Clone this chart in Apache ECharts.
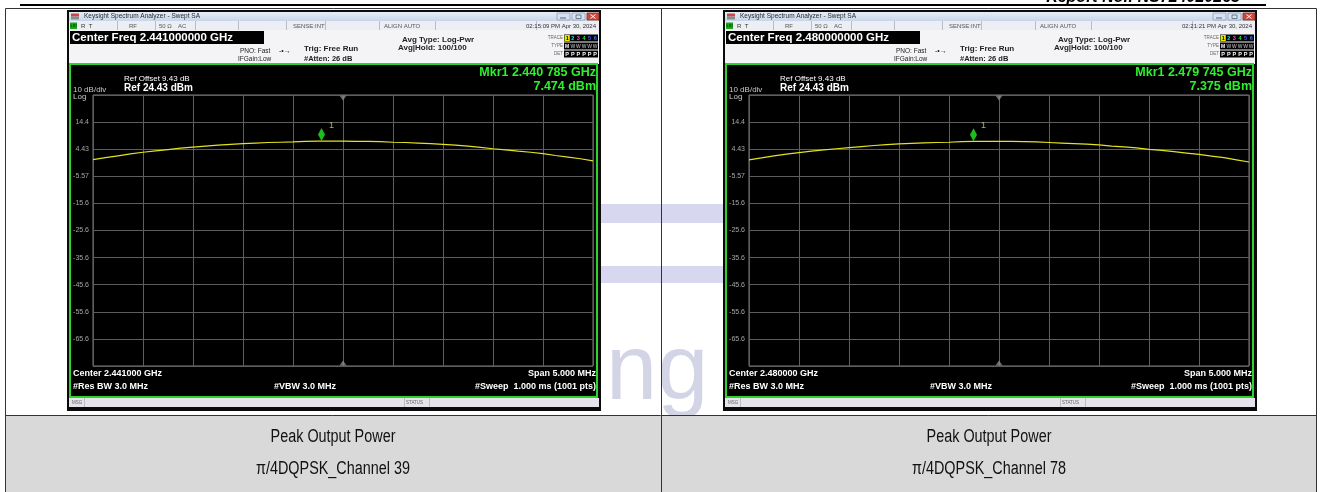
<!DOCTYPE html>
<html><head><meta charset="utf-8">
<script src="https://cdn.jsdelivr.net/npm/echarts@6/dist/echarts.min.js"></script>
<style>html,body{margin:0;padding:0;background:#fff}#c{width:1322px;height:492px}</style>
</head><body><div id="c"></div>
<script>
// ---------------- data ----------------
const freqOffsetMHz = [-2.5,-2.375,-2.25,-2.125,-2.0,-1.875,-1.75,-1.625,-1.5,-1.375,-1.25,-1.125,-1.0,-0.875,-0.75,-0.625,-0.5,-0.375,-0.25,-0.125,0.0,0.125,0.25,0.375,0.5,0.625,0.75,0.875,1.0,1.125,1.25,1.375,1.5,1.625,1.75,1.875,2.0,2.125,2.25,2.375,2.5];
const ch39TraceDbm = [0.6,1.3,2.0,2.7,3.3,3.8,4.3,4.8,5.2,5.6,5.9,6.2,6.5,6.7,6.9,7.0,7.1,7.3,7.4,7.4,7.4,7.3,7.3,7.2,7.0,6.9,6.7,6.5,6.2,5.9,5.6,5.1,4.6,4.2,3.7,3.3,2.8,2.1,1.5,0.9,0.1];
const ch78TraceDbm = [0.5,1.2,2.0,2.6,3.2,3.7,4.2,4.6,5.0,5.4,5.8,6.1,6.4,6.6,6.8,6.9,7.0,7.2,7.3,7.3,7.3,7.3,7.2,7.1,6.9,6.7,6.5,6.3,6.0,5.6,5.3,4.9,4.4,4.0,3.5,3.0,2.5,1.9,1.3,0.5,-0.3];
const refLevelDbm = 24.43;
const yTickLabels = ['14.4','4.43','-5.57','-15.6','-25.6','-35.6','-45.6','-55.6','-65.6'];
const markerCh39 = [-0.215, 7.474];
const markerCh78 = [-0.255, 7.375];
const panelTexts = [
  {centerFreq:'Center Freq 2.441000000 GHz', center:'Center 2.441000 GHz', mkr:'Mkr1 2.440 785 GHz', mkrVal:'7.474 dBm', time:'02:15:09 PM Apr 30, 2024', cap1:'Peak Output Power', cap2:'π/4DQPSK_Channel 39'},
  {centerFreq:'Center Freq 2.480000000 GHz', center:'Center 2.480000 GHz', mkr:'Mkr1 2.479 745 GHz', mkrVal:'7.375 dBm', time:'02:21:21 PM Apr 30, 2024', cap1:'Peak Output Power', cap2:'π/4DQPSK_Channel 78'}
];
const traces = [ch39TraceDbm, ch78TraceDbm];
const markers = [markerCh39, markerCh78];

// ---------------- helpers ----------------
const FONT = '"Liberation Sans", Arial, Helvetica, sans-serif';
function txt(x, y, text, o = {}) {
  const align = o.align || 'left', va = o.va || 'middle';
  return { type: 'text', x, y, z: o.z ?? 20, silent: true, scaleX: o.sx || 1,
    style: { text, fill: o.color || '#fff',
      font: `${o.italic ? 'italic ' : ''}${o.weight || 'normal'} ${o.size || 8}px ${o.family || FONT}`,
      align, textAlign: align, verticalAlign: va, textVerticalAlign: va } };
}
function rect(x, y, w, h, fill, o = {}) {
  return { type: 'rect', z: o.z ?? -10, silent: true, shape: { x, y, width: w, height: h },
    style: { fill, stroke: o.stroke || null, lineWidth: o.lw || 0 } };
}
function ln(x1, y1, x2, y2, color, w, z) {
  return { type: 'line', z: z ?? -5, silent: true, shape: { x1, y1, x2, y2 }, style: { stroke: color, lineWidth: w || 1 } };
}

function panelGraphics(p, dx) {
  const X = v => v + dx;
  const e = [];
  e.push(rect(X(67), 10, 534, 401, '#0b0b0b', {z: -20}));
  // title bar
  e.push(rect(X(69), 12, 530, 9, new echarts.graphic.LinearGradient(0,0,0,1,[{offset:0,color:'#e6edf7'},{offset:1,color:'#c6d5ea'}]), {z:-15}));
  e.push(rect(X(71), 13.5, 8, 3, '#d04545', {z:-14}));
  e.push(rect(X(71), 16.5, 8, 3, '#8c8c8c', {z:-14}));
  e.push(txt(X(84), 16.5, 'Keysight Spectrum Analyzer - Swept SA', {size: 6.5, color: '#2a2a2a'}));
  e.push(rect(X(557), 13, 13, 7, '#d6e1f0', {z:-14, stroke:'#8fa0b8', lw:0.8}));
  e.push(rect(X(572), 13, 13, 7, '#d6e1f0', {z:-14, stroke:'#8fa0b8', lw:0.8}));
  e.push(rect(X(587), 13, 12, 7, '#cd4a3f', {z:-14, stroke:'#8a2a22', lw:0.8}));
  e.push(ln(X(560), 18, X(566), 18, '#55637a', 1, -13));
  e.push(rect(X(576), 15, 5, 3.5, null, {z:-13, stroke:'#55637a', lw:0.8}));
  e.push(ln(X(590.5), 14.5, X(595.5), 18.5, '#fff', 1, -13));
  e.push(ln(X(595.5), 14.5, X(590.5), 18.5, '#fff', 1, -13));
  // row 2
  e.push(rect(X(69), 21, 530, 9, '#eceef3', {z:-15}));
  [117,155,195,238,286,325,379,435,536].forEach(x => e.push(ln(X(x)+0.5, 21, X(x)+0.5, 30, '#b9bdc8', 1, -12)));
  e.push(rect(X(70), 22.5, 7, 6.5, '#1aa81a', {z:-12}));
  e.push(txt(X(73.5), 25.8, 'LXI', {size: 4, color: '#000', align: 'center'}));
  e.push(txt(X(81), 26, 'R  T', {size: 6, color: '#333'}));
  e.push(txt(X(129), 26, 'RF', {size: 6, color: '#555'}));
  e.push(txt(X(159), 26, '50 Ω', {size: 6, color: '#555'}));
  e.push(txt(X(178), 26, 'AC', {size: 6, color: '#555'}));
  e.push(txt(X(293), 26, 'SENSE:INT', {size: 6, color: '#555'}));
  e.push(txt(X(384), 26, 'ALIGN AUTO', {size: 6, color: '#555'}));
  e.push(txt(X(596), 26, p.time, {size: 6, color: '#333', align: 'right'}));
  // rows 3-4
  e.push(rect(X(69), 30, 530, 34, '#f4f4f7', {z:-15}));
  e.push(rect(X(70), 31, 194, 13, '#000', {z:-12}));
  e.push(txt(X(72), 38, p.centerFreq, {size: 11.5, weight: 'bold'}));
  e.push(txt(X(240), 51, 'PNO: Fast', {size: 6.5, color: '#222'}));
  e.push(txt(X(238), 59, 'IFGain:Low', {size: 6.5, color: '#222'}));
  e.push(txt(X(279), 51, '-•→', {size: 7, color: '#222'}));
  e.push(txt(X(304), 49, 'Trig: Free Run', {size: 8, weight: 'bold', color: '#222'}));
  e.push(txt(X(304), 58.5, '#Atten: 26 dB', {size: 7.5, weight: 'bold', color: '#222'}));
  e.push(txt(X(402), 39.5, 'Avg Type: Log-Pwr', {size: 8, weight: 'bold', color: '#222'}));
  e.push(txt(X(398), 48, 'Avg|Hold: 100/100', {size: 8, weight: 'bold', color: '#222'}));
  e.push(txt(X(563), 38, 'TRACE', {size: 4.5, color: '#666', align: 'right'}));
  e.push(txt(X(563), 46, 'TYPE', {size: 4.5, color: '#666', align: 'right'}));
  e.push(txt(X(563), 54, 'DET', {size: 4.5, color: '#666', align: 'right'}));
  e.push(rect(X(564), 34.5, 34, 7, '#000', {z:-12}));
  e.push(rect(X(564), 42.5, 34, 7, '#000', {z:-12}));
  e.push(rect(X(564), 50.5, 34, 7, '#000', {z:-12}));
  e.push(rect(X(564.5), 35, 5.3, 6, '#e8e800', {z:-11}));
  const tc = ['#000','#20e0e0','#ff40ff','#30e030','#5a5aff','#3a7aff'];
  for (let i = 0; i < 6; i++) {
    const cx = X(567.2 + i * 5.6);
    e.push(txt(cx, 38.2, String(i + 1), {size: 5.5, weight: 'bold', color: tc[i], align: 'center'}));
    e.push(txt(cx, 46.2, i === 0 ? 'M' : 'W', {size: 5, weight: 'bold', color: i === 0 ? '#fff' : '#999', align: 'center'}));
    e.push(txt(cx, 54.2, 'P', {size: 5.5, weight: 'bold', color: '#fff', align: 'center'}));
  }
  // main frame
  e.push(rect(X(70), 64, 527, 333, '#000', {z:-12, stroke: '#2ad42a', lw: 2}));
  e.push(txt(X(124), 79, 'Ref Offset 9.43 dB', {size: 8}));
  e.push(txt(X(124), 88, 'Ref 24.43 dBm', {size: 10, weight: 'bold'}));
  e.push(txt(X(73), 89.5, '10 dB/div', {size: 8, color: '#c8c8c8'}));
  e.push(txt(X(73), 96.5, 'Log', {size: 8, color: '#c8c8c8'}));
  e.push(txt(X(596), 73, p.mkr, {size: 12.5, weight: 'bold', color: '#2ef02e', align: 'right'}));
  e.push(txt(X(596), 87, p.mkrVal, {size: 12.5, weight: 'bold', color: '#2ef02e', align: 'right'}));
  e.push(txt(X(73), 373.5, p.center, {size: 9, weight: 'bold'}));
  e.push(txt(X(73), 386.5, '#Res BW 3.0 MHz', {size: 9, weight: 'bold'}));
  e.push(txt(X(274), 386.5, '#VBW 3.0 MHz', {size: 9, weight: 'bold'}));
  e.push(txt(X(596), 373.5, 'Span 5.000 MHz', {size: 9, weight: 'bold', align: 'right'}));
  e.push(txt(X(596), 386.5, '#Sweep  1.000 ms (1001 pts)', {size: 9, weight: 'bold', align: 'right'}));
  // msg bar
  e.push(rect(X(69), 398, 530, 9, '#e4e4ea', {z:-15}));
  e.push(ln(X(84)+0.5, 398, X(84)+0.5, 407, '#b9bdc8', 1, -12));
  e.push(ln(X(404)+0.5, 398, X(404)+0.5, 407, '#b9bdc8', 1, -12));
  e.push(ln(X(429)+0.5, 398, X(429)+0.5, 407, '#b9bdc8', 1, -12));
  e.push(txt(X(72), 402.5, 'MSG', {size: 4.5, color: '#666'}));
  e.push(txt(X(406), 402.5, 'STATUS', {size: 4.5, color: '#666'}));
  // caption
  e.push(txt(X(333), 437, p.cap1, {size: 18, color: '#111', align: 'center', sx: 0.8}));
  e.push(txt(X(333), 469, p.cap2, {size: 18, color: '#111', align: 'center', sx: 0.8}));
  return e;
}

const graphics = [];
// page header
graphics.push(txt(1240, 5.5, 'Report No.: NS724020265', {size: 16, weight: 'bold', italic: true, color: '#000', align: 'right', va: 'bottom', z: 0}));
graphics.push(rect(20, 4, 1246, 2, '#000', {z: 5}));
// watermark
graphics.push(rect(590, 204, 150, 19, '#d7d8ef', {z: -30}));
graphics.push(rect(590, 266, 150, 17, '#d7d8ef', {z: -30}));
graphics.push({type: 'text', x: 606, y: 420, z: -30, silent: true,
  style: {text: 'ng', fill: '#d3d5e6', stroke: '#ffffff', lineWidth: 3, strokeFirst: false,
    font: `normal 92px ${FONT}`, align: 'left', textAlign: 'left', verticalAlign: 'bottom', textVerticalAlign: 'bottom'}});
// caption row shading
graphics.push(rect(5, 416, 1311, 80, '#d9d9d9', {z: -25}));
panelTexts.forEach((p, i) => graphics.push(...panelGraphics(p, i * 656)));
// table lines
graphics.push({type:'rect', z: 30, silent: true, shape:{x:5.5, y:8.5, width:1311, height:500}, style:{fill:null, stroke:'#333', lineWidth:1}});
graphics.push(ln(661.5, 8, 661.5, 492, '#333', 1, 30));
graphics.push(ln(5, 415.5, 1316, 415.5, '#333', 1, 30));

// ---------------- chart ----------------
const gridPos = [{left: 93, top: 95}, {left: 749, top: 95}];
const grids = gridPos.map(g => ({left: g.left, top: g.top, width: 500, height: 271, show: true, borderColor: '#7c7c7c', borderWidth: 1, backgroundColor: 'transparent'}));
const xAxes = gridPos.map((g, i) => ({type: 'value', gridIndex: i, min: -2.5, max: 2.5, interval: 0.5,
  axisLine: {show: false}, axisTick: {show: false}, axisLabel: {show: false},
  splitLine: {show: true, lineStyle: {color: '#5e5e5e', width: 1}}}));
const yAxes = gridPos.map((g, i) => ({type: 'value', gridIndex: i, min: -100, max: 0, interval: 10,
  axisLine: {show: false}, axisTick: {show: false},
  axisLabel: {show: true, color: '#a6a6a6', fontSize: 7, fontFamily: FONT, margin: 4,
    formatter: v => { const k = Math.round(-v / 10) - 1; return (k >= 0 && k < yTickLabels.length) ? yTickLabels[k] : ''; }},
  splitLine: {show: true, lineStyle: {color: '#5e5e5e', width: 1}}}));
const series = [];
traces.forEach((tr, i) => {
  series.push({type: 'line', xAxisIndex: i, yAxisIndex: i, data: freqOffsetMHz.map((f, k) => [f, tr[k] - refLevelDbm]),
    symbol: 'none', lineStyle: {color: '#e2e222', width: 1.2}, z: 3, silent: true});
  series.push({type: 'scatter', xAxisIndex: i, yAxisIndex: i, data: [[markers[i][0], markers[i][1] - refLevelDbm]],
    symbol: 'diamond', symbolSize: [7, 13], symbolOffset: [0, -6.5], itemStyle: {color: '#22ee22'}, z: 5, silent: true,
    label: {show: true, formatter: '1', position: 'right', offset: [-1, -9], color: '#e6e600', fontSize: 9, fontFamily: FONT}});
  series.push({type: 'scatter', xAxisIndex: i, yAxisIndex: i, data: [[0, 0]], symbol: 'triangle', symbolRotate: 180,
    symbolSize: [7, 5], symbolOffset: [0, 3], itemStyle: {color: '#8a8a8a'}, clip: false, z: 4, silent: true});
  series.push({type: 'scatter', xAxisIndex: i, yAxisIndex: i, data: [[0, -100]], symbol: 'triangle',
    symbolSize: [7, 5], symbolOffset: [0, -3], itemStyle: {color: '#8a8a8a'}, clip: false, z: 4, silent: true});
});

const chart = echarts.init(document.getElementById('c'), null, {renderer: 'canvas'});
chart.setOption({
  animation: false,
  backgroundColor: '#ffffff',
  grid: grids, xAxis: xAxes, yAxis: yAxes, series,
  graphic: {elements: graphics}
});
</script></body></html>
